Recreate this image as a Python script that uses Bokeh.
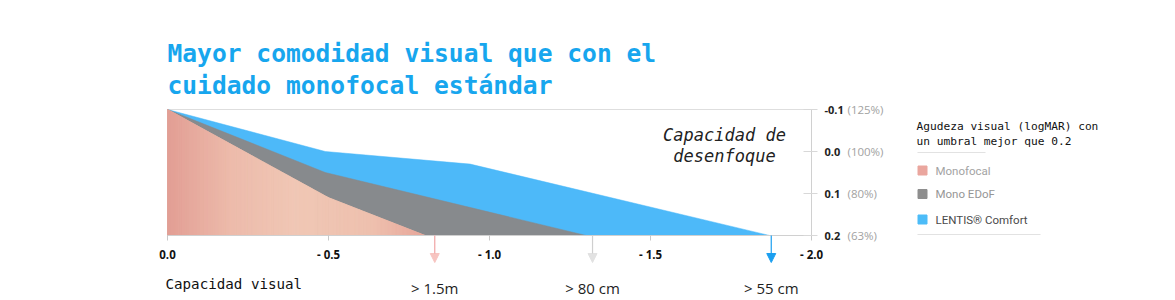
import numpy as np
from bokeh.plotting import figure
from bokeh.models import Range1d, LinearAxis, FixedTicker, Arrow, NormalHead
from bokeh.core.properties import value
from bokeh.embed import file_html
from bokeh.resources import INLINE

# ---------------- data ----------------
title_lines = ["Mayor comodidad visual que con el", "cuidado monofocal estándar"]

# defocus (D) -> visual acuity (logMAR) outline of each area
mono_x = [0.0, -0.5, -0.8]
mono_y = [-0.1, 0.11, 0.2]
edof_x = [0.0, -0.49, -1.3]
edof_y = [-0.1, 0.05, 0.2]
lentis_x = [0.0, -0.49, -0.94, -1.87]
lentis_y = [-0.1, 0.0, 0.03, 0.2]
threshold = 0.2

x_ticks = [0.0, -0.5, -1.0, -1.5, -2.0]
x_tick_labels = ["0.0", "- 0.5", "- 1.0", "- 1.5", "- 2.0"]
y_ticks = [-0.1, 0.0, 0.1, 0.2]
y_tick_labels = ["-0.1", "0.0", "0.1", "0.2"]
y_tick_pct = ["(125%)", "(100%)", "(80%)", "(63%)"]

arrow_x = [-0.83, -1.32, -1.875]
arrow_labels = ["> 1.5m", "> 80 cm", "> 55 cm"]

legend_title = ["Agudeza visual (logMAR) con", "un umbral mejor que 0.2"]
legend_labels = ["Monofocal", "Mono EDoF", "LENTIS® Comfort"]
legend_colors = ["#eaa69e", "#8e8e8e", "#4cbcf8"]
legend_text_colors = ["#a3a3a3", "#969696", "#4a4a4a"]

x_caption = "Capacidad visual"
y_caption = ["Capacidad de", "desenfoque"]

# ---------------- layout helpers (pixel -> data) ----------------
W, H = 1175, 300
X0PX, PXU = 167.0, 322.0   # x pixel of 0.0 D, pixels per dioptre
Y0PX, PYU = 151.0, 420.0   # y pixel of 0.0 logMAR, pixels per logMAR unit


def X(px):
    return -(px - X0PX) / PXU


def Y(py):
    return (py - Y0PX) / PYU


p = figure(width=W, height=H,
           x_range=Range1d(X(0), X(W)), y_range=Range1d(Y(H), Y(0)),
           x_axis_type=None, y_axis_type=None,
           toolbar_location=None, output_backend="svg",
           min_border=0, outline_line_color=None)
p.background_fill_color = "white"
p.border_fill_color = "white"

BLUE = "#4db9f9"
GRAY = "#878a8d"

# top frame line
p.segment(x0=[x_ticks[0]], y0=[y_ticks[0]], x1=[x_ticks[-1]], y1=[y_ticks[0]],
          line_color="#dedede", line_width=1.2)

# areas
p.patch(x=lentis_x + [lentis_x[0]], y=lentis_y + [threshold],
        fill_color=BLUE, line_color=BLUE, line_width=0.5)
p.patch(x=edof_x + [edof_x[0]], y=edof_y + [threshold],
        fill_color=GRAY, line_color=GRAY, line_width=0.5)
p.patch(x=mono_x + [mono_x[0]], y=mono_y + [threshold],
        fill_color="#eec2af", line_color="#eec2af", line_width=0.5)

# horizontal gradient of the monofocal area, drawn as thin bands
stops_t = [0.0, 0.25, 0.5, 0.8, 1.0]
stops_c = np.array([[226, 158, 148], [237, 187, 171], [240, 199, 181],
                    [238, 192, 174], [231, 166, 154]], dtype=float)
n = 70
edges = np.linspace(mono_x[0], mono_x[-1], n + 1)
neg_x = [-v for v in mono_x]
tops = np.interp(-edges, neg_x, mono_y)
bx, by, bc = [], [], []
for i in range(n):
    t = (i + 0.5) / n
    col = [int(round(np.interp(t, stops_t, stops_c[:, k]))) for k in range(3)]
    hexc = "#%02x%02x%02x" % tuple(col)
    bx.append([edges[i], edges[i + 1], edges[i + 1], edges[i]])
    by.append([tops[i], tops[i + 1], threshold, threshold])
    bc.append(hexc)
p.patches(xs=bx, ys=by, fill_color=bc, line_color=bc, line_width=0.8)

# arrows to distances
arrow_line = ["#f0a4a4", "#cfcfcf", "#1b9ff0"]
arrow_head = ["#f7c4c0", "#e2e2e2", "#1b9ff0"]
for ax, lc, hc in zip(arrow_x, arrow_line, arrow_head):
    p.add_layout(Arrow(x_start=ax, y_start=threshold, x_end=ax, y_end=Y(262),
                       line_color=lc, line_width=1.2,
                       end=NormalHead(size=9, fill_color=hc, line_color=hc, line_width=1)))

p.text(x=arrow_x, y=[Y(287)] * len(arrow_x), text=arrow_labels,
       text_font=value("Open Sans"), text_font_size="15px", text_color="#1e1e1e",
       text_align="center", text_baseline="alphabetic")

# x axis (defocus)
xaxis = LinearAxis(fixed_location=threshold, bounds=(x_ticks[-1], x_ticks[0]),
                   ticker=FixedTicker(ticks=x_ticks),
                   major_label_overrides={t: l for t, l in zip(x_ticks, x_tick_labels)})
xaxis.axis_line_color = "#d0d0d0"
xaxis.major_tick_line_color = "#c8c8c8"
xaxis.major_tick_out = 5
xaxis.major_tick_in = 0
xaxis.minor_tick_line_color = None
xaxis.major_label_standoff = 6
xaxis.major_label_text_font = "Open Sans"
xaxis.major_label_text_font_style = "bold"
xaxis.major_label_text_font_size = "11.5px"
xaxis.major_label_text_color = "#111111"
p.add_layout(xaxis, "below")

# right axis (visual acuity)
yaxis = LinearAxis(fixed_location=x_ticks[-1], bounds=(y_ticks[0], y_ticks[-1]),
                   ticker=FixedTicker(ticks=y_ticks),
                   major_label_overrides={t: l for t, l in zip(y_ticks, y_tick_labels)})
yaxis.axis_line_color = "#d0d0d0"
yaxis.major_tick_line_color = "#d8d8d8"
yaxis.major_tick_out = 6
yaxis.major_tick_in = 8
yaxis.minor_tick_line_color = None
yaxis.major_label_standoff = 7
yaxis.major_label_text_font = "Open Sans"
yaxis.major_label_text_font_style = "bold"
yaxis.major_label_text_font_size = "11px"
yaxis.major_label_text_color = "#222222"
p.add_layout(yaxis, "right")

p.text(x=[X(847)] * len(y_ticks), y=y_ticks, text=y_tick_pct,
       text_font=value("Open Sans"), text_font_size="11.5px", text_color="#a2a2a2",
       text_align="left", text_baseline="middle")

# title
p.text(x=[X(167)] * 2, y=[Y(53), Y(85)], text=title_lines,
       text_font=value("DejaVu Sans Mono"), text_font_style="bold",
       text_font_size="24.6px",
       text_color="#17a6ee", text_align="left", text_baseline="alphabetic")

# captions
p.text(x=[X(165)], y=[Y(283)], text=[x_caption],
       text_font=value("DejaVu Sans Mono"), text_font_size="14.2px",
       text_color="#111111", text_align="left", text_baseline="alphabetic")
p.text(x=[X(724)] * 2, y=[Y(134), Y(155)], text=y_caption,
       text_font=value("DejaVu Sans Mono"), text_font_style="italic",
       text_font_size="17px", text_color="#222222",
       text_align="center", text_baseline="alphabetic")

# legend
p.text(x=[X(916)] * 2, y=[Y(125.5), Y(141)], text=legend_title,
       text_font=value("DejaVu Sans Mono"), text_font_size="11.2px",
       text_color="#111111", text_align="left", text_baseline="alphabetic")
p.segment(x0=[X(917), X(917)], y0=[Y(152), Y(234)], x1=[X(985), X(1040)], y1=[Y(152), Y(234)],
          line_color="#e2e2e2", line_width=1.2)
leg_y = [Y(170), Y(193.5), Y(219)]
p.scatter(x=[X(922)] * 3, y=leg_y, marker="square", size=9,
          fill_color=legend_colors, line_color=legend_colors)
p.text(x=[X(935)] * 3, y=leg_y, text=legend_labels,
       text_font=value("Roboto"), text_font_size="11.5px", text_color=legend_text_colors,
       text_align="left", text_baseline="middle")

open("out.html", "w").write(file_html(p, INLINE))
